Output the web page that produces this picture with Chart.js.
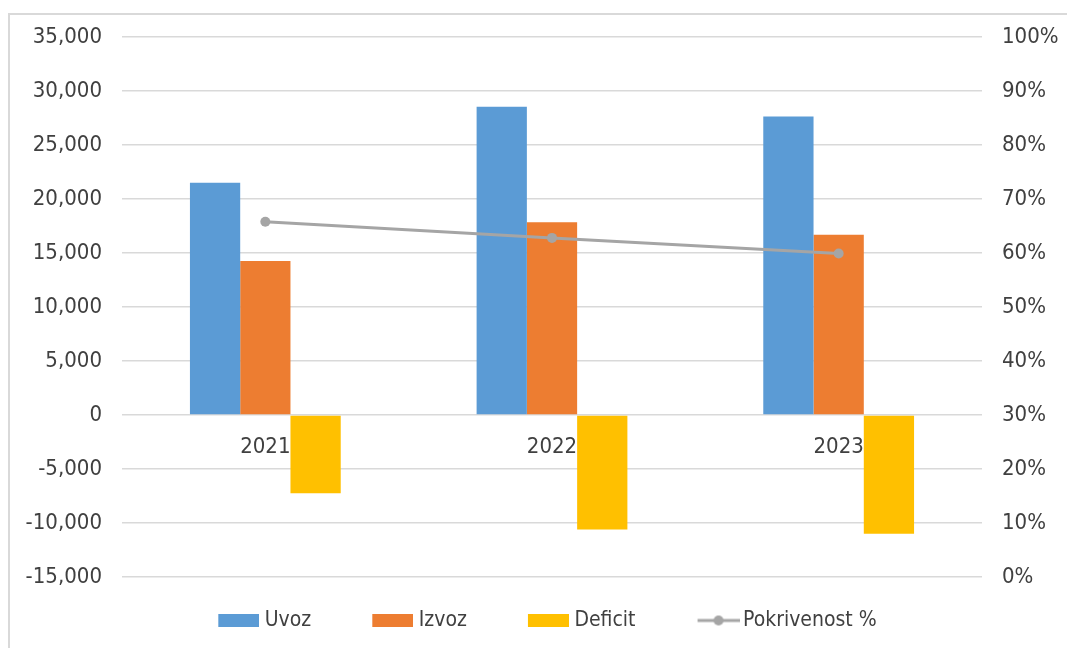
<!DOCTYPE html>
<html>
<head>
<meta charset="utf-8">
<script src="https://cdn.jsdelivr.net/npm/chart.js@4"></script>
<style>
  html, body { margin: 0; padding: 0; background: #fff; }
  #frame {
    position: absolute; left: 8px; top: 13px; width: 1060px; height: 640px;
    border-top: 2px solid #d9d9d9; border-left: 2px solid #d9d9d9;
  }
  #wrap { position: absolute; left: 0; top: 0; width: 1067px; height: 648px; }
</style>
</head>
<body>
<div id="frame"></div>
<div id="wrap"><canvas id="tradeChart"></canvas></div>
<script>
// values (mil.)
var years = ["2021", "2022", "2023"];
var uvoz = [21500, 28550, 27650];
var izvoz = [14250, 17850, 16700];
var deficit = [-7250, -10600, -11000];
var pokrivenost = [65.8, 62.8, 59.9];

var seriesNames = ["Uvoz", "Izvoz", "Deficit", "Pokrivenost %"];
var seriesColors = ["#5b9bd5", "#ed7d31", "#ffc000", "#a5a5a5"];

Chart.defaults.font.family = "'DejaVu Sans Condensed', 'DejaVu Sans', sans-serif";
Chart.defaults.color = "#404040";

// legend icons: the legend centres them in a 64px slot, the image is a bit
// wider so the coloured mark ends up close to its text
var slot = 64, iconW = 74;
function boxIcon(color) {
  var c = document.createElement("canvas");
  c.width = iconW; c.height = 13;
  var g = c.getContext("2d");
  g.fillStyle = color;
  g.fillRect(iconW - 41, 0, 41, 13);
  return c;
}
function lineIcon(color) {
  var c = document.createElement("canvas");
  c.width = iconW + 4; c.height = 12;
  var g = c.getContext("2d");
  g.strokeStyle = color;
  g.lineWidth = 3;
  g.beginPath(); g.moveTo(iconW - 42 + 4, 6); g.lineTo(iconW + 4, 6); g.stroke();
  g.fillStyle = color;
  g.beginPath(); g.arc(iconW - 21 + 4, 6, 5, 0, Math.PI * 2); g.fill();
  return c;
}
var icons = [boxIcon(seriesColors[0]), boxIcon(seriesColors[1]), boxIcon(seriesColors[2]), lineIcon(seriesColors[3])];

var ctx = document.getElementById("tradeChart").getContext("2d");
var chart = new Chart(ctx, {
  type: "bar",
  data: {
    labels: years,
    datasets: [
      {
        type: "line",
        label: seriesNames[3],
        data: pokrivenost,
        yAxisID: "y1",
        borderColor: seriesColors[3],
        backgroundColor: seriesColors[3],
        borderWidth: 3,
        pointRadius: 5,
        pointBackgroundColor: seriesColors[3],
        pointBorderWidth: 0,
        order: 0
      },
      { label: seriesNames[0], data: uvoz, backgroundColor: seriesColors[0], yAxisID: "y", order: 1 },
      { label: seriesNames[1], data: izvoz, backgroundColor: seriesColors[1], yAxisID: "y", order: 1 },
      { label: seriesNames[2], data: deficit, backgroundColor: seriesColors[2], yAxisID: "y", order: 1 }
    ]
  },
  options: {
    responsive: true,
    maintainAspectRatio: false,
    animation: false,
    datasets: {
      bar: { categoryPercentage: 0.526, barPercentage: 1.0 }
    },
    layout: { padding: { top: 37, bottom: 7, left: 0, right: 0 } },
    scales: {
      x: {
        position: { y: 0 },
        grid: { display: false },
        border: { display: false },
        ticks: { font: { size: 22 }, padding: 11, color: "#404040" }
      },
      y: {
        position: "left",
        min: -15000,
        max: 35000,
        ticks: {
          stepSize: 5000,
          padding: 20,
          font: { size: 22 },
          color: "#404040",
          callback: function (v) { return v.toLocaleString("en-US"); }
        },
        grid: { color: "#d9d9d9", lineWidth: 1.5, drawTicks: false },
        border: { display: false },
        afterFit: function (scale) { scale.width = 122; }
      },
      y1: {
        position: "right",
        min: 0,
        max: 100,
        ticks: {
          stepSize: 10,
          padding: 20,
          font: { size: 22 },
          color: "#404040",
          callback: function (v) { return v + "%"; }
        },
        grid: { display: false, drawTicks: false },
        border: { display: false },
        afterFit: function (scale) { scale.width = 85; }
      }
    },
    plugins: {
      title: { display: false },
      tooltip: { enabled: false },
      legend: {
        position: "bottom",
        maxHeight: 64,
        labels: {
          usePointStyle: true,
          pointStyleWidth: slot,
          padding: 33,
          font: { size: 21 },
          color: "#404040",
          generateLabels: function (chart) {
            var items = Chart.defaults.plugins.legend.labels.generateLabels(chart);
            items.forEach(function (it) {
              it.pointStyle = icons[seriesNames.indexOf(it.text)];
            });
            // bars first, line last, as in the picture
            items.sort(function (a, b) {
              return seriesNames.indexOf(a.text) - seriesNames.indexOf(b.text);
            });
            return items;
          }
        }
      }
    }
  }
});
</script>
</body>
</html>
